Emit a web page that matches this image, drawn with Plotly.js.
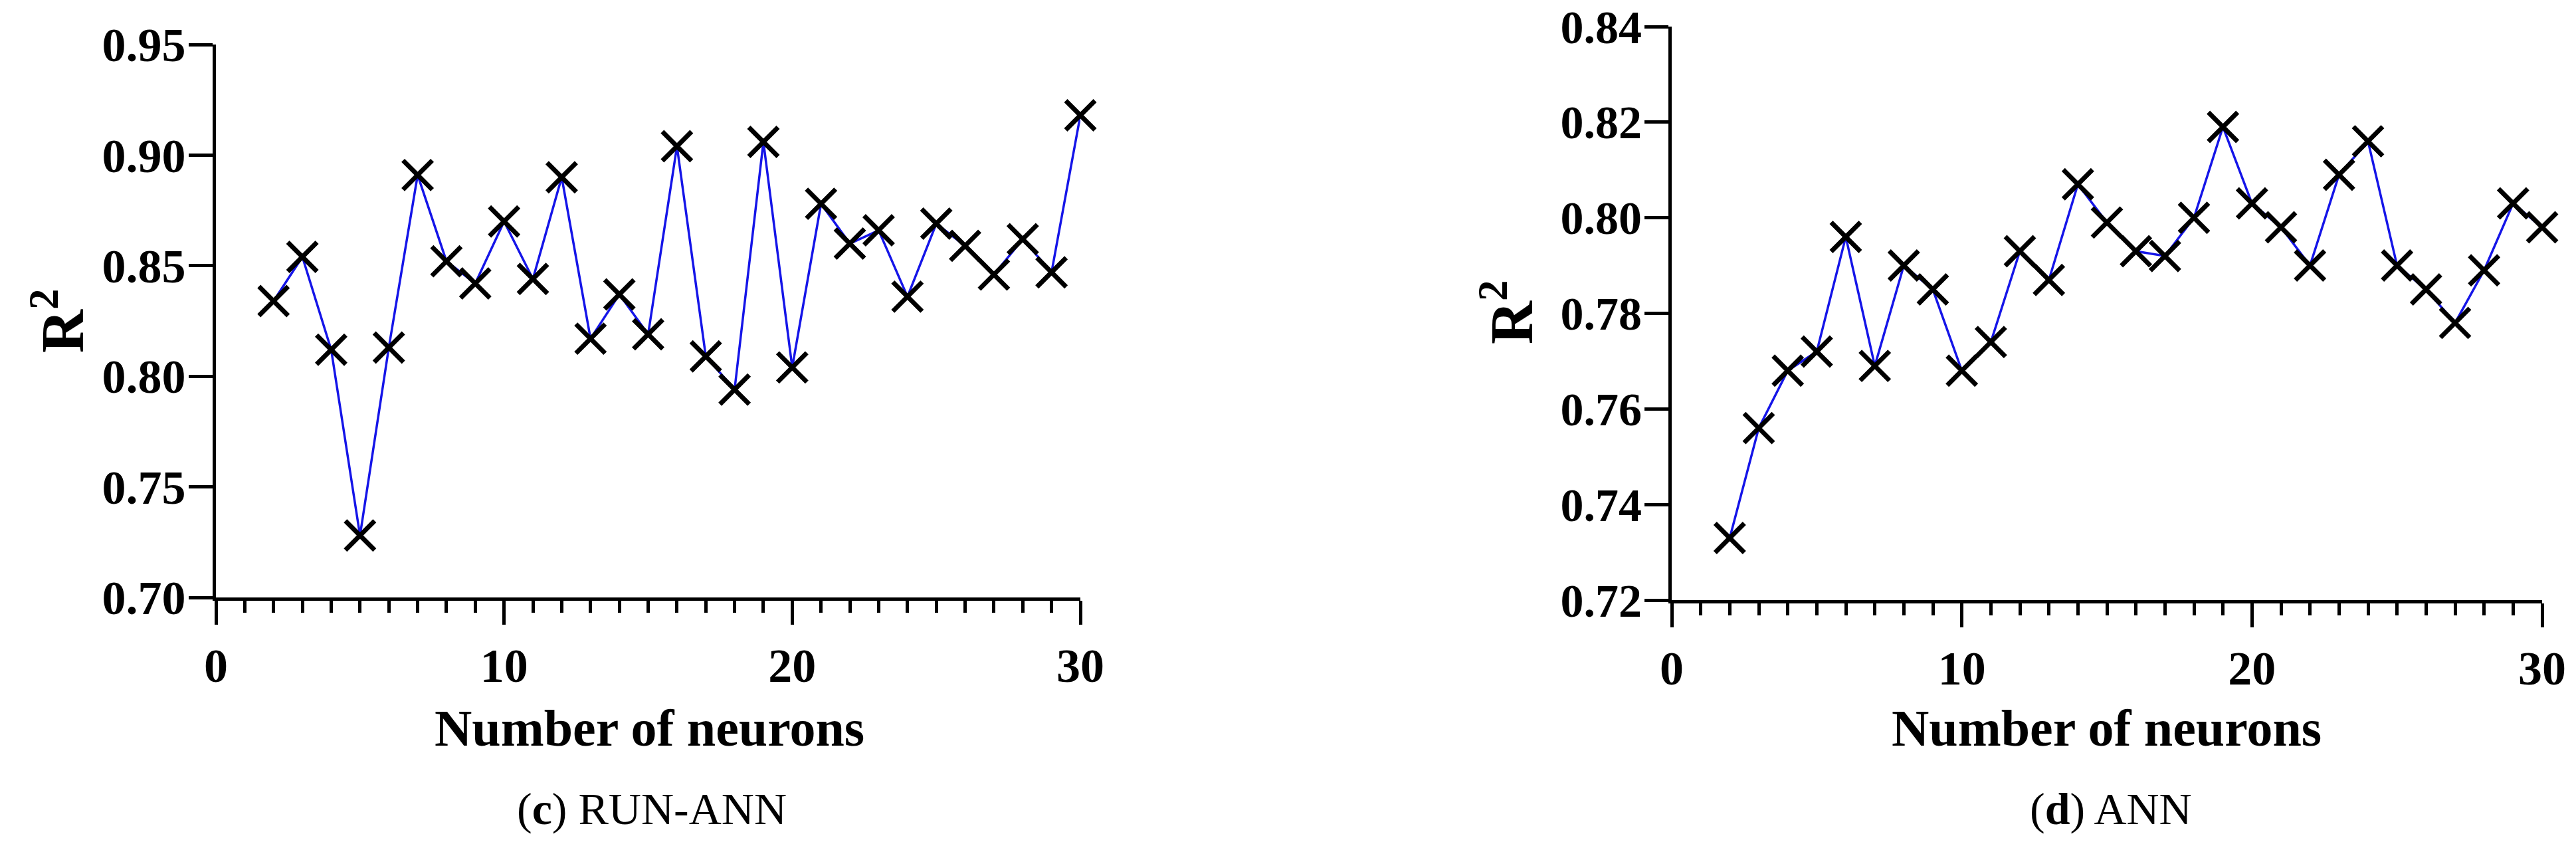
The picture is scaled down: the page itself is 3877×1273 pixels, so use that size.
<!DOCTYPE html>
<html>
<head>
<meta charset="utf-8">
<script src="https://cdn.plot.ly/plotly-3.0.1.min.js"></script>
<style>html,body{margin:0;padding:0;background:#fff;}#chart{width:3877px;height:1273px;}</style>
</head>
<body>
<div id="chart"></div>
<script>
// Number of neurons (x values)
const neurons = [2,3,4,5,6,7,8,9,10,11,12,13,14,15,16,17,18,19,20,21,22,23,24,25,26,27,28,29,30];
// (c) RUN-ANN R² values
const r2RunAnn = [0.834,0.854,0.812,0.728,0.813,0.891,0.852,0.842,0.870,0.844,0.890,0.817,0.837,0.819,0.904,0.809,0.794,0.906,0.804,0.878,0.860,0.866,0.836,0.869,0.859,0.846,0.862,0.847,0.918];
// (d) ANN R² values
const r2Ann = [0.733,0.756,0.768,0.772,0.796,0.769,0.790,0.785,0.768,0.774,0.793,0.787,0.807,0.799,0.793,0.792,0.800,0.819,0.803,0.798,0.790,0.809,0.816,0.790,0.785,0.778,0.789,0.803,0.798];
// tick values
const xTicks = [0,10,20,30];
const yTicksC = [0.70,0.75,0.80,0.85,0.90,0.95];
const yTicksD = [0.72,0.74,0.76,0.78,0.80,0.82,0.84];

const W = 3877, H = 1273;
const serif = 'Liberation Serif, Times New Roman, serif';
const px = v => v / W;
const py = v => 1 - v / H;

function trace(y, xa, ya) {
  return {
    x: neurons, y: y, xaxis: xa, yaxis: ya,
    type: 'scatter', mode: 'lines+markers', cliponaxis: false,
    line: {color: '#1515e8', width: 3.5},
    marker: {symbol: 'x-thin', size: 44, color: '#000', line: {color: '#000', width: 7}},
    showlegend: false, hoverinfo: 'skip'
  };
}

function xAxis(d0, d1, anchor, fs) {
  return {
    domain: [px(d0), px(d1)], anchor: anchor, range: [0, 30],
    tickmode: 'array', tickvals: xTicks, ticktext: xTicks.map(String),
    showline: true, linecolor: '#000', linewidth: 5,
    ticks: 'outside', ticklen: 36, tickwidth: 5, tickcolor: '#000',
    minor: {dtick: 1, tick0: 0, ticks: 'outside', ticklen: 18, tickwidth: 5, tickcolor: '#000', showgrid: false},
    showgrid: false, zeroline: false, ticklabeloverflow: 'allow',
    tickfont: {family: serif, size: fs, color: '#000', weight: 'bold'}
  };
}
function yAxis(d0, d1, anchor, range, vals, fs) {
  return {
    domain: [py(d1), py(d0)], anchor: anchor, range: range,
    tickmode: 'array', tickvals: vals, ticktext: vals.map(v => v.toFixed(2)),
    showline: true, linecolor: '#000', linewidth: 5,
    ticks: 'outside', ticklen: 36, tickwidth: 5, tickcolor: '#000',
    ticklabelstandoff: -10,
    showgrid: false, zeroline: false, ticklabeloverflow: 'allow',
    tickfont: {family: serif, size: fs, color: '#000', weight: 'bold'}
  };
}

const layout = {
  width: W, height: H,
  margin: {l: 0, r: 0, t: 0, b: 0},
  paper_bgcolor: '#fff', plot_bgcolor: '#fff',
  xaxis: xAxis(325, 1626, 'y', 72),
  yaxis: yAxis(67, 899, 'x', [0.70, 0.95], yTicksC, 72),
  xaxis2: xAxis(2516, 3826, 'y2', 72),
  yaxis2: yAxis(40, 903, 'x2', [0.72, 0.84], yTicksD, 70),
  annotations: [
    {text: '<b>R<sup>2</sup></b>', textangle: -90, x: px(88), y: py(483), xref: 'paper', yref: 'paper', xanchor: 'center', yanchor: 'middle', showarrow: false, font: {family: serif, size: 90, color: '#000'}},
    {text: '<b>R<sup>2</sup></b>', textangle: -90, x: px(2268), y: py(470), xref: 'paper', yref: 'paper', xanchor: 'center', yanchor: 'middle', showarrow: false, font: {family: serif, size: 90, color: '#000'}},
    {text: '<b>Number of neurons</b>', x: px(977), y: py(1095), xref: 'paper', yref: 'paper', xanchor: 'center', yanchor: 'middle', showarrow: false, font: {family: serif, size: 78, color: '#000'}},
    {text: '<b>Number of neurons</b>', x: px(3170), y: py(1095), xref: 'paper', yref: 'paper', xanchor: 'center', yanchor: 'middle', showarrow: false, font: {family: serif, size: 78, color: '#000'}},
    {text: '(<b>c</b>) RUN-ANN', x: px(981), y: py(1217), xref: 'paper', yref: 'paper', xanchor: 'center', yanchor: 'middle', showarrow: false, font: {family: serif, size: 68, color: '#000'}},
    {text: '(<b>d</b>) ANN', x: px(3177), y: py(1217), xref: 'paper', yref: 'paper', xanchor: 'center', yanchor: 'middle', showarrow: false, font: {family: serif, size: 68, color: '#000'}}
  ]
};

Plotly.newPlot('chart', [trace(r2RunAnn, 'x', 'y'), trace(r2Ann, 'x2', 'y2')], layout, {staticPlot: true, displayModeBar: false});
</script>
</body>
</html>
